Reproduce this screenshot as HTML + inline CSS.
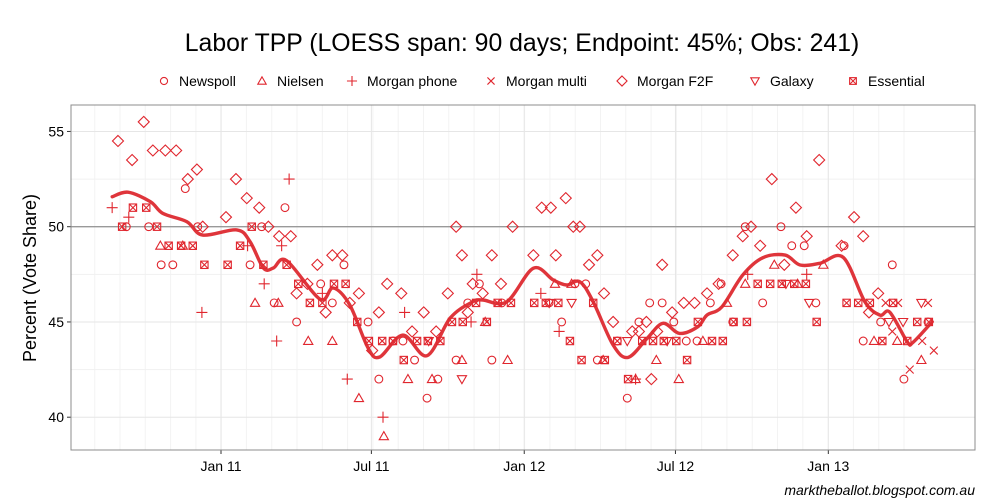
<!DOCTYPE html>
<html><head><meta charset="utf-8"><style>
html,body{margin:0;padding:0;background:#fff;width:1000px;height:500px;overflow:hidden}
svg text{font-family:"Liberation Sans",sans-serif}
</style></head><body>
<svg id="chart" width="1000" height="500" xmlns="http://www.w3.org/2000/svg">
<rect x="0" y="0" width="1000" height="500" fill="#fff"/>
<text x="522" y="51" font-size="24.8" text-anchor="middle" fill="#000">Labor TPP (LOESS span: 90 days; Endpoint: 45%; Obs: 241)</text>
<g id="legend"></g>
<g id="grid"></g>
<g id="marks"></g>
<text transform="translate(36,278) rotate(-90)" font-size="18" text-anchor="middle" fill="#000">Percent (Vote Share)</text>
<text x="975" y="495" font-size="14" font-style="italic" text-anchor="end" fill="#000">marktheballot.blogspot.com.au</text>
</svg>
<script>
// x values: days since 2011-01-01; y values: percent
const newspollDays=[-114,-87,-72,-58,-43,-28,35,49,64,77,91,120,134,148,177,190,207,219,233,248,261,283,297,311,326,338,395,410,426,439,453,477,489,503,516,531,545,560,573,589,602,616,631,652,674,687,702,716,750,773,794,808,822,851];
const newspollVals=[50,50,48,48,52,50,48,50,46,51,45,47,46,48,45,42,44,44,43,41,42,43,46,47,43,46,46,45,47,47,43,44,41,45,46,46,45,44,44,46,47,45,50,46,50,49,49,46,49,44,45,48,42,45];
const nielsenDays=[-73,-46,41,69,105,134,166,196,225,254,290,318,345,402,422,460,499,524,551,580,609,631,666,694,725,786,814,843];
const nielsenVals=[49,49,46,46,44,44,41,39,42,42,43,45,43,47,47,43,42,43,42,44,46,47,48,47,48,44,44,43];
const phoneDays=[-131,-111,-23,32,52,67,73,82,122,152,195,221,301,308,385,407,499,634,705];
const phoneVals=[51,50.5,45.5,49,47,44,49,52.5,46.5,42,40,45.5,45,47.5,46.5,44.5,42,47.5,47.5];
const multiDays=[800,808,815,829,844,851,858];
const multiVals=[46,44.5,46,42.5,44,46,43.5];
const f2fDays=[-124,-107,-93,-82,-67,-54,-40,-29,-22,6,18,31,46,57,70,84,91,104,116,126,134,146,155,166,182,190,200,217,230,244,259,273,283,290,297,303,315,326,337,351,376,386,397,403,415,424,432,443,453,461,472,495,503,512,518,525,531,543,557,570,585,599,616,628,638,649,663,678,692,705,720,747,762,773,780,791];
const f2fVals=[54.5,53.5,55.5,54,54,54,52.5,53,50,50.5,52.5,51.5,51,50,49.5,49.5,46.5,47,48,45.5,48.5,48.5,46,46.5,43.5,45.5,47,46.5,44.5,45.5,44.5,46.5,50,48.5,45.5,47,46.5,48.5,47,50,48.5,51,51,48.5,51.5,50,50,48,48.5,46.5,45,44.5,44.5,45,42,44.5,48,45.5,46,46,46.5,47,48.5,49.5,50,49,52.5,48,51,49.5,53.5,49,50.5,49.5,45.5,46.5];
const galaxyDays=[250,290,395,422,489,537,680,708,804,821,843];
const galaxyVals=[44,42,46,46,44,44,47,46,45,45,46];
const essentialDays=[-119,-106,-90,-77,-63,-48,-34,-20,8,23,37,51,79,93,107,122,136,150,164,178,194,207,220,236,249,264,278,291,307,320,333,349,377,391,406,420,434,448,462,477,490,507,520,533,548,561,574,591,604,617,633,646,661,675,690,704,717,753,767,781,796,809,826,838,852];
const essentialVals=[50,51,51,50,49,49,49,48,48,49,50,48,48,47,46,46,47,47,45,44,44,44,43,44,44,44,45,45,46,45,46,46,46,46,46,44,43,46,43,44,42,44,44,44,44,43,45,44,44,45,45,47,47,47,47,47,45,46,46,46,44,46,44,45,45];
const loessDays=[-131,-112,-85,-70,-41,-22,19,35,51,63,79,119,135,155,177,191,219,248,276,303,315,344,376,400,416,432,448,472,490,513,532,552,574,585,603,628,652,679,697,721,749,775,793,805,826,833,856];
const loessVals=[51.57,51.81,51.31,50.7,50.26,49.56,49.83,49.21,47.83,47.83,48.22,46.2,46.78,45.89,43.63,43.16,44.31,43.23,45.21,46.06,46.15,46.06,47.82,47.2,46.94,47.11,46.06,43.79,43.14,44.14,44.93,44.4,44.75,45.36,45.8,47.46,48.37,48.51,47.99,48.08,48.39,46.06,45.36,45.51,43.96,43.93,45.01];
const xTickDays=[0,181,365,547,731];
const xTickLabels=["Jan 11","Jul 11","Jan 12","Jul 12","Jan 13"];
const yTicks=[40,45,50,55];

const NS='http://www.w3.org/2000/svg';
const L=71,R=975,T=105,B=450;
const RED='#e0262e';
function X(d){return 221+d*0.8308;}
function Y(v){return 226.7-(v-50)*19.05;}
function mk(tag,attrs,parent){const e=document.createElementNS(NS,tag);for(const k in attrs)e.setAttribute(k,attrs[k]);parent.appendChild(e);return e;}
const grid=document.getElementById('grid'),marks=document.getElementById('marks'),leg=document.getElementById('legend');
const panel=mk('rect',{x:L,y:T,width:R-L,height:B-T,fill:'#fff'},grid);


for(let d=-152;d<=760+90;d+=30.44){const x=X(d);if(x>L&&x<R){mk('line',{x1:x,x2:x,y1:T,y2:B,stroke:'#f3f3f3','stroke-width':1},grid);}}
for(let v=37.5;v<=57.5;v+=5){const y=Y(v);if(y>T&&y<B)mk('line',{x1:L,x2:R,y1:y,y2:y,stroke:'#f1f1f1','stroke-width':1},grid);}
xTickDays.forEach((d,i)=>{const x=X(d);
 mk('line',{x1:x,x2:x,y1:T,y2:B,stroke:'#e6e6e6','stroke-width':1},grid);
 mk('line',{x1:x,x2:x,y1:B,y2:B+4,stroke:'#333','stroke-width':1},grid);
 const t=mk('text',{x:x,y:B+21,'font-size':14,'text-anchor':'middle',fill:'#000'},grid);t.textContent=xTickLabels[i];
 
 
});
yTicks.forEach(v=>{const y=Y(v);
 mk('line',{x1:L,x2:R,y1:y,y2:y,stroke:v===50?'#999':'#e6e6e6','stroke-width':v===50?1.3:1},grid);
 mk('line',{x1:L-4,x2:L,y1:y,y2:y,stroke:'#333','stroke-width':1},grid);
 const t=mk('text',{x:L-7,y:y+5,'font-size':14,'text-anchor':'end',fill:'#000'},grid);t.textContent=v;
 
 
});
mk('rect',{x:L,y:T,width:R-L,height:B-T,fill:'none',stroke:'#8c8c8c','stroke-width':1},grid);

function sym(type,x,y,p,s){s=s||4.6;const a={fill:'none',stroke:RED,'stroke-width':1.1};let e;
 if(type==='circle'){e=mk('circle',Object.assign({cx:x,cy:y,r:s*0.85},a),p);}
 else if(type==='tri'){e=mk('polygon',Object.assign({points:`${x},${y-s} ${x-s},${y+s*0.75} ${x+s},${y+s*0.75}`},a),p);}
 else if(type==='dtri'){e=mk('polygon',Object.assign({points:`${x},${y+s} ${x-s},${y-s*0.75} ${x+s},${y-s*0.75}`},a),p);}
 else if(type==='plus'){e=mk('path',Object.assign({d:`M${x-s*1.2},${y}H${x+s*1.2}M${x},${y-s*1.2}V${y+s*1.2}`},a),p);}
 else if(type==='cross'){e=mk('path',Object.assign({d:`M${x-s*0.85},${y-s*0.85}L${x+s*0.85},${y+s*0.85}M${x-s*0.85},${y+s*0.85}L${x+s*0.85},${y-s*0.85}`},a),p);}
 else if(type==='diamond'){e=mk('polygon',Object.assign({points:`${x},${y-s*1.2} ${x+s*1.2},${y} ${x},${y+s*1.2} ${x-s*1.2},${y}`},a),p);}
 else {const h=s*0.8;e=mk('g',{},p);mk('rect',Object.assign({x:x-h,y:y-h,width:2*h,height:2*h},a),e);mk('path',Object.assign({d:`M${x-h},${y-h}L${x+h},${y+h}M${x-h},${y+h}L${x+h},${y-h}`},a),e);}
 return e;}

const series=[
 ['newspoll','circle',newspollDays,newspollVals],
 ['nielsen','tri',nielsenDays,nielsenVals],
 ['morgan-phone','plus',phoneDays,phoneVals],
 ['morgan-multi','cross',multiDays,multiVals],
 ['morgan-f2f','diamond',f2fDays,f2fVals],
 ['galaxy','dtri',galaxyDays,galaxyVals],
 ['essential','box',essentialDays,essentialVals]];
series.forEach(([name,type,ds,vs])=>{ds.forEach((d,i)=>{const e=sym(type,X(d),Y(vs[i]),marks);
 
 });});

// smooth curve (Catmull-Rom -> cubic Bezier)
const P=loessDays.map((d,i)=>[X(d),Y(loessVals[i])]);
let pd='M'+P[0][0].toFixed(1)+','+P[0][1].toFixed(1);
for(let i=0;i<P.length-1;i++){const p0=P[Math.max(0,i-1)],p1=P[i],p2=P[i+1],p3=P[Math.min(P.length-1,i+2)];
 const c1=[p1[0]+(p2[0]-p0[0])/6,p1[1]+(p2[1]-p0[1])/6],c2=[p2[0]-(p3[0]-p1[0])/6,p2[1]-(p3[1]-p1[1])/6];
 pd+=`C${c1[0].toFixed(1)},${c1[1].toFixed(1)} ${c2[0].toFixed(1)},${c2[1].toFixed(1)} ${p2[0].toFixed(1)},${p2[1].toFixed(1)}`;}
const ln=mk('path',{d:pd,fill:'none',stroke:'#dd2a30','stroke-width':3.4,'stroke-linejoin':'round','stroke-linecap':'round',opacity:0.95},marks);



const legendNames=['Newspoll','Nielsen','Morgan phone','Morgan multi','Morgan F2F','Galaxy','Essential'];
const legendSymX=[164,262,352,491,622,755,853];
series.forEach((s,i)=>{const g=mk('g',{},leg);
 
 
 sym(s[1],legendSymX[i],81,g,4.2);
 const t=mk('text',{x:legendSymX[i]+15,y:86,'font-size':14,fill:'#000'},g);t.textContent=legendNames[i];});
</script>
</body></html>
